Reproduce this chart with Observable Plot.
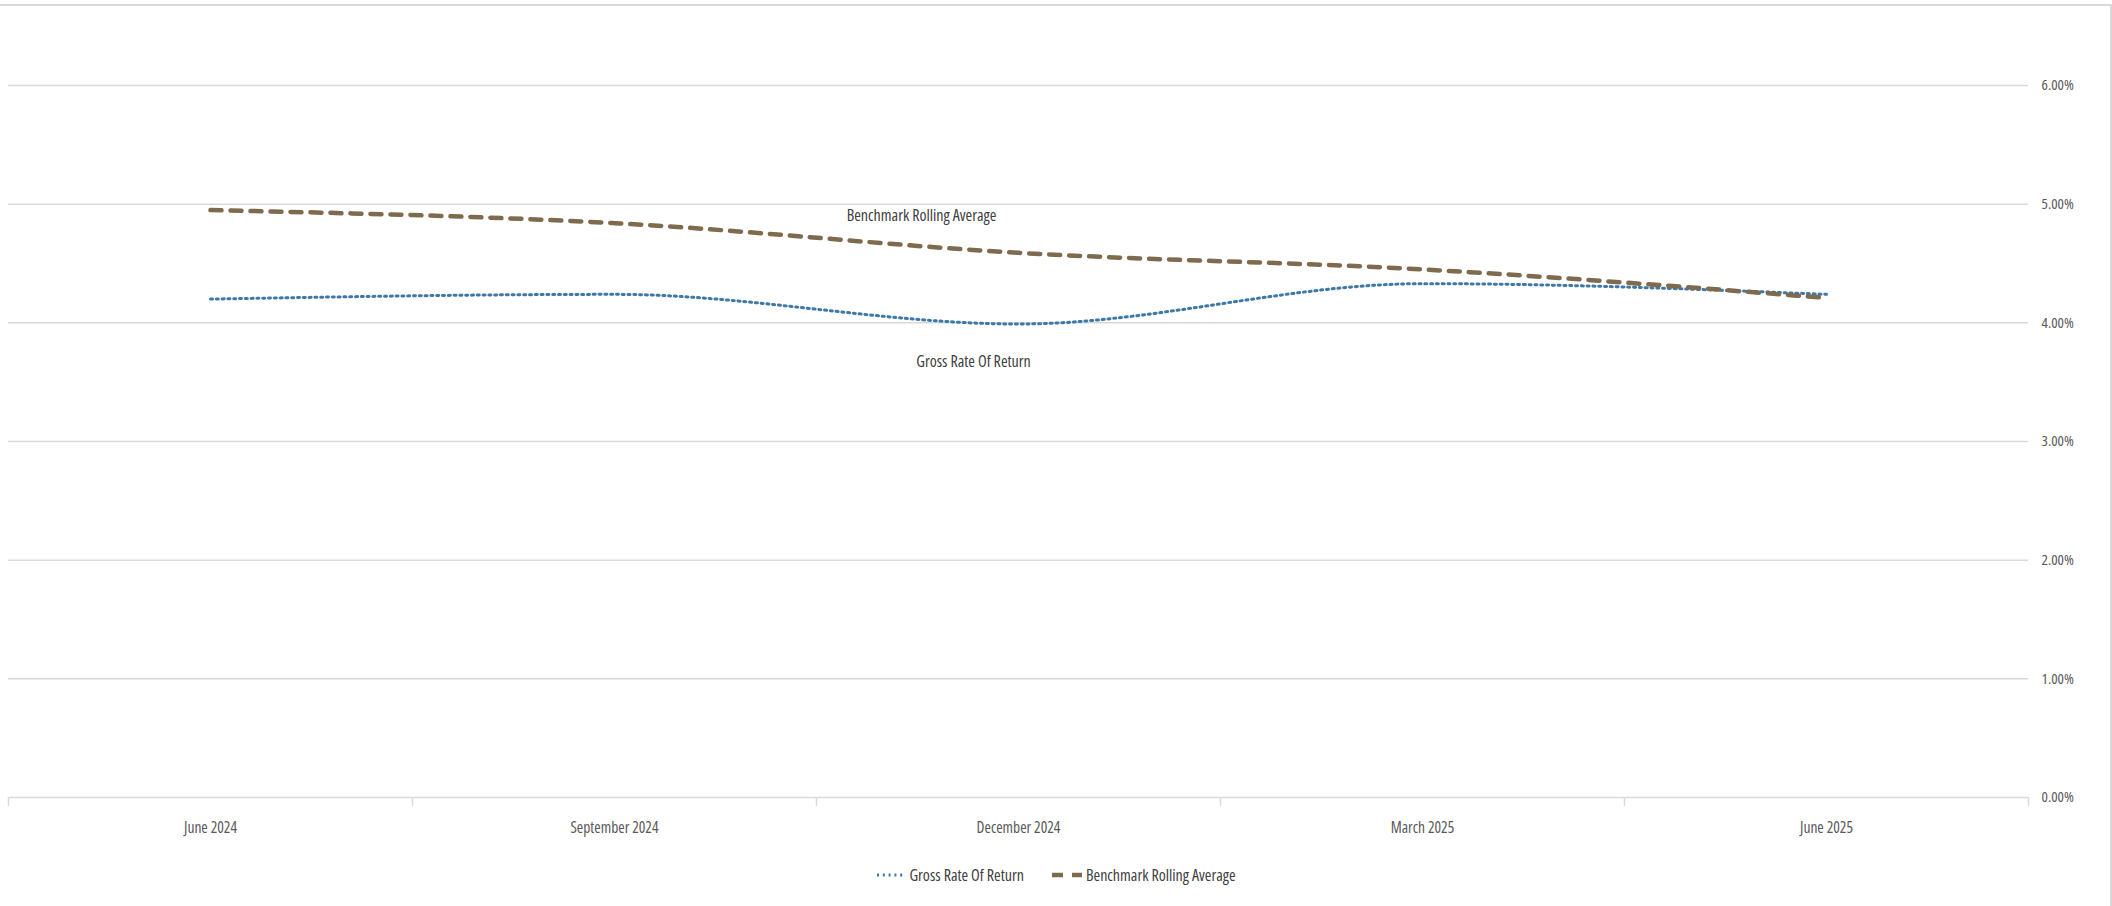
<!DOCTYPE html>
<html>
<head>
<meta charset="utf-8">
<script src="https://cdn.jsdelivr.net/npm/d3@7"></script>
<script src="https://cdn.jsdelivr.net/npm/@observablehq/plot@0.6"></script>
<style>
  html, body { margin: 0; padding: 0; background: #fff; }
  body { width: 2112px; height: 906px; overflow: hidden; position: relative;
         font-family: "Open Sans", sans-serif; font-stretch: 76%; }
  #frame { position: absolute; left: 0; top: 4px; width: 2110px; height: 920px;
           border-top: 2px solid #d9d9d9; border-right: 2px solid #d9d9d9; pointer-events: none; }
  #chart { position: absolute; left: 0; top: 0; }
  #chart text { font-stretch: 76%; }
  #legend { position: absolute; left: 0; top: 860px; width: 2112px; height: 30px;
            display: flex; justify-content: center; align-items: center; gap: 0;
            font-size: 16px; color: #404040; }
  .item { display: flex; align-items: center; }
  .item svg { display: block; }
</style>
</head>
<body>
<div id="chart"></div>
<div id="legend"></div>
<div id="frame"></div>
<script>
const periods = ["June 2024", "September 2024", "December 2024", "March 2025", "June 2025"];
const grossReturn = [4.20, 4.24, 3.99, 4.33, 4.24];
const benchmarkAvg = [4.95, 4.84, 4.59, 4.45, 4.21];
const yTicks = [0, 1, 2, 3, 4, 5, 6];
const seriesNames = ["Gross Rate Of Return", "Benchmark Rolling Average"];

const grossColor = "#3f78a6";
const benchColor = "#7e6a4d";

const grossRows = periods.map((p, i) => ({i, period: p, value: grossReturn[i]}));
const benchRows = periods.map((p, i) => ({i, period: p, value: benchmarkAvg[i]}));
const idx = periods.map((_, i) => i);
const boundaries = periods.map((_, i) => i - 0.5).concat([periods.length - 0.5]);
const labelAt = periods.indexOf("December 2024");

const fmt = d => d.toFixed(2) + "%";

const chart = Plot.plot({
  width: 2112,
  height: 850,
  marginLeft: 8,
  marginRight: 84,
  marginTop: 85,
  marginBottom: 53,
  style: {fontFamily: '"Open Sans", sans-serif', fontSize: "16px", background: "transparent"},
  x: {type: "linear", domain: [-0.5, periods.length - 0.5]},
  y: {domain: [0, 6]},
  marks: [
    Plot.gridY(yTicks, {stroke: "#d9d9d9", strokeOpacity: 1, strokeWidth: 1.5}),
    Plot.axisY(yTicks, {anchor: "right", tickSize: 0, tickPadding: 13, tickFormat: fmt,
      fill: "#595959", fontSize: 15, label: null}),
    Plot.axisX(boundaries, {anchor: "bottom", tickSize: 9, stroke: "#d9d9d9", strokeOpacity: 1,
      strokeWidth: 1.5, tickFormat: () => "", label: null}),
    Plot.axisX(idx, {anchor: "bottom", tickSize: 0, tickPadding: 24, tickFormat: i => periods[i],
      fill: "#595959", fontSize: 15.5, label: null}),
    Plot.line(grossRows, {x: "i", y: "value", stroke: grossColor, strokeWidth: 3,
      strokeDasharray: "2,3.8", curve: "monotone-x"}),
    Plot.line(benchRows, {x: "i", y: "value", stroke: benchColor, strokeWidth: 4.5,
      strokeDasharray: "11,9", strokeLinecap: "round", curve: "monotone-x"}),
    Plot.text([benchRows[labelAt]], {x: "i", y: "value", text: () => seriesNames[1],
      dx: -97, dy: -37, fill: "#404040", fontSize: 16}),
    Plot.text([grossRows[labelAt]], {x: "i", y: "value", text: () => seriesNames[0],
      dx: -45, dy: 38, fill: "#404040", fontSize: 16})
  ]
});
document.getElementById("chart").appendChild(chart);

// Legend
const legend = document.getElementById("legend");
function item(name, color, width, dash, sw, gapAfter) {
  const el = document.createElement("div");
  el.className = "item";
  el.style.marginRight = gapAfter + "px";
  const ns = "http://www.w3.org/2000/svg";
  const s = document.createElementNS(ns, "svg");
  s.setAttribute("width", width);
  s.setAttribute("height", 10);
  const l = document.createElementNS(ns, "line");
  l.setAttribute("x1", 1); l.setAttribute("x2", width - 1);
  l.setAttribute("y1", 5); l.setAttribute("y2", 5);
  l.setAttribute("stroke", color);
  l.setAttribute("stroke-width", sw);
  l.setAttribute("stroke-dasharray", dash);
  s.appendChild(l);
  const t = document.createElement("span");
  t.textContent = name;
  t.style.marginLeft = "3px";
  el.appendChild(s); el.appendChild(t);
  legend.appendChild(el);
}
item(seriesNames[0], grossColor, 30, "2,3.8", 3, 27);
item(seriesNames[1], benchColor, 32, "11,9", 4.5, 0);
</script>
</body>
</html>
